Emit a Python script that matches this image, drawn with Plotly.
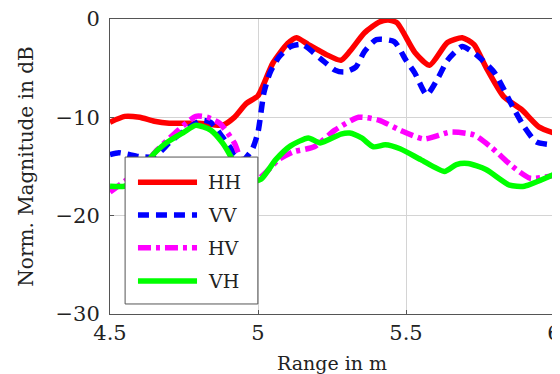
import plotly.graph_objects as go

hh_x = [4.50, 4.55, 4.60, 4.65, 4.70, 4.80, 4.88, 4.92, 4.96, 5.00, 5.05, 5.10, 5.13, 5.17, 5.23, 5.28, 5.31, 5.36, 5.41, 5.44, 5.47, 5.53, 5.58, 5.64, 5.69, 5.73, 5.77, 5.83, 5.89, 5.95, 6.00]
hh_y = [-10.5, -9.9, -10.0, -10.4, -10.6, -10.6, -10.8, -10.0, -8.6, -7.8, -4.5, -2.5, -1.9, -2.6, -3.6, -4.2, -3.3, -1.4, -0.3, -0.1, -0.4, -3.4, -4.7, -2.4, -1.9, -2.6, -4.9, -7.9, -9.2, -11.0, -11.6]

vv_x = [4.50, 4.53, 4.60, 4.65, 4.70, 4.74, 4.81, 4.84, 4.88, 4.92, 4.95, 4.98, 5.00, 5.02, 5.04, 5.07, 5.11, 5.15, 5.21, 5.26, 5.29, 5.33, 5.36, 5.40, 5.46, 5.50, 5.53, 5.57, 5.61, 5.64, 5.69, 5.74, 5.80, 5.86, 5.90, 5.94, 6.00]
vv_y = [-13.8, -13.6, -14.0, -14.0, -12.6, -11.6, -10.3, -10.5, -12.0, -13.6, -14.3, -13.3, -11.5, -7.5, -5.5, -3.9, -2.8, -2.6, -4.0, -5.2, -5.4, -4.9, -3.3, -2.1, -2.3, -4.2, -5.5, -7.7, -5.9, -4.2, -2.8, -3.7, -5.5, -8.9, -11.0, -12.5, -12.8]

hv_x = [4.50, 4.55, 4.60, 4.66, 4.72, 4.79, 4.83, 4.87, 4.92, 4.95, 4.99, 5.02, 5.07, 5.12, 5.19, 5.26, 5.34, 5.41, 5.48, 5.56, 5.65, 5.73, 5.79, 5.86, 5.92, 6.00]
hv_y = [-17.6, -16.5, -15.3, -13.3, -11.6, -9.9, -10.0, -10.6, -12.6, -15.0, -16.5, -15.8, -14.3, -13.5, -13.0, -11.3, -10.0, -10.3, -11.3, -12.2, -11.5, -11.8, -13.1, -15.0, -16.2, -15.9]

vh_x = [4.50, 4.55, 4.60, 4.64, 4.69, 4.75, 4.79, 4.84, 4.88, 4.91, 4.94, 4.97, 5.01, 5.06, 5.11, 5.17, 5.21, 5.28, 5.31, 5.35, 5.39, 5.43, 5.48, 5.55, 5.63, 5.67, 5.71, 5.77, 5.85, 5.90, 6.00]
vh_y = [-17.0, -17.0, -16.0, -14.0, -12.6, -11.5, -10.8, -11.3, -12.6, -14.1, -16.0, -16.6, -16.3, -14.3, -12.9, -12.1, -12.6, -11.7, -11.6, -12.1, -13.0, -12.8, -13.2, -14.3, -15.5, -14.8, -14.7, -15.3, -16.9, -17.0, -15.8]

x_ticks = [4.5, 5, 5.5, 6]
x_tick_labels = ["4.5", "5", "5.5", "6"]
y_ticks = [-30, -20, -10, 0]
y_tick_labels = ["\u221230", "\u221220", "\u221210", "0"]

series_names = ["HH", "VV", "HV", "VH"]
series_x = [hh_x, vv_x, hv_x, vh_x]
series_y = [hh_y, vv_y, hv_y, vh_y]
series_colors = ["#ff0000", "#0000ff", "#ff00ff", "#00ff00"]
series_dash = ["solid", "11px,7px", "13px,5px,4px,5px", "solid"]

font = "DejaVu Serif, serif"
fig = go.Figure()
for name, xs, ys, col, dash in zip(series_names, series_x, series_y, series_colors, series_dash):
    fig.add_trace(go.Scatter(
        x=xs, y=ys, mode="lines", name=name, showlegend=False,
        line=dict(color=col, width=5.5, dash=dash, shape="spline", smoothing=0.6),
    ))

# legend box (drawn in paper coordinates of the plot area)
shapes = [dict(type="rect", xref="paper", yref="paper", x0=0.034, x1=0.333, y0=0.034, y1=0.532,
               fillcolor="white", line=dict(color="#555555", width=1), layer="above")]
annotations = []
legend_rows = [0.447, 0.336, 0.225, 0.112]
for name, col, dash, yy in zip(series_names, series_colors, series_dash, legend_rows):
    shapes.append(dict(type="line", xref="paper", yref="paper", x0=0.063, x1=0.196, y0=yy, y1=yy,
                       line=dict(color=col, width=5.5, dash=dash), layer="above"))
    annotations.append(dict(text=name, xref="paper", yref="paper", x=0.216, y=yy,
                            xanchor="left", yanchor="middle", showarrow=False,
                            font=dict(family=font, size=19, color="#222222")))

axis_common = dict(
    showline=True, linecolor="#555555", linewidth=1, mirror=True,
    showgrid=True, gridcolor="#d4d4d4", gridwidth=1, automargin=False,
    zeroline=False, ticks="inside", ticklen=4, tickcolor="#555555",
    ticklabeloverflow="allow",
    tickfont=dict(family=font, size=21, color="#222222"),
)

fig.update_layout(
    width=552, height=366,
    margin=dict(l=102, r=6, t=11, b=60),
    paper_bgcolor="white", plot_bgcolor="white",
    font=dict(family=font, color="#222222"),
    showlegend=False,
    shapes=shapes, annotations=annotations,
    xaxis=dict(range=[4.5, 6], tickvals=x_ticks, ticktext=x_tick_labels,
               title=dict(text="Range in m", font=dict(family=font, size=19), standoff=14),
               **axis_common),
    yaxis=dict(range=[-30, 0], tickvals=y_ticks, ticktext=y_tick_labels, ticklabelstandoff=5,
               title=dict(text="Norm. Magnitude in dB", font=dict(family=font, size=20), standoff=16),
               **axis_common),
)

fig.write_html("out.html")
